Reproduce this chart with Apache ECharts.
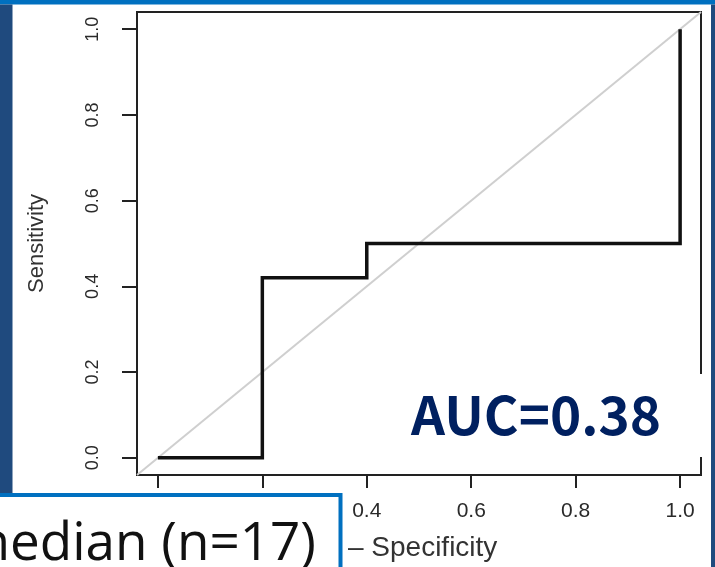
<!DOCTYPE html>
<html>
<head>
<meta charset="utf-8">
<script src="https://cdn.jsdelivr.net/npm/echarts@6/dist/echarts.min.js"></script>
<style>
html,body{margin:0;padding:0;background:#fff;}
#c{width:715px;height:567px;}
</style>
</head>
<body>
<div id="c"></div>
<script>
// ROC curve data (1 - specificity, sensitivity)
const fprValues = [0, 0.2, 0.2, 0.4, 0.4, 1.0, 1.0];
const tprValues = [0, 0, 0.42, 0.42, 0.5, 0.5, 1.0];
// chance diagonal spanning the plot region
const diagX = [-0.04, 1.04];
const diagY = [-0.04, 1.04];
// axis ticks
const tickValues = [0, 0.2, 0.4, 0.6, 0.8, 1.0];
const axisMin = -0.04;
const axisMax = 1.04;
const xName = '1 – Specificity';
const yName = 'Sensitivity';
const aucText = 'AUC=0.38';
const groupText = 'median (n=17)';

const chart = echarts.init(document.getElementById('c'), null, {renderer: 'canvas'});
const axisFont = 'Liberation Sans, Arial, sans-serif';
const korFont = '"Noto Sans CJK KR", "Noto Sans", sans-serif';

const option = {
  backgroundColor: '#ffffff',
  animation: false,
  grid: {
    left: 137, right: 14, top: 12, bottom: 92,
    show: true, borderColor: '#222', borderWidth: 2, backgroundColor: 'transparent'
  },
  xAxis: {
    type: 'value', min: axisMin, max: axisMax,
    name: xName, nameLocation: 'middle', nameGap: 59,
    nameTextStyle: {fontFamily: axisFont, fontSize: 28, color: '#333', padding: [0, 16, 0, 0]},
    axisLine: {show: false, onZero: false},
    splitLine: {show: false},
    axisTick: {show: true, inside: false, length: 13, customValues: tickValues, lineStyle: {color: '#222', width: 2}},
    axisLabel: {customValues: tickValues, margin: 26, fontFamily: axisFont, fontSize: 21, color: '#2a2a2a',
      formatter: v => v.toFixed(1)}
  },
  yAxis: {
    type: 'value', min: axisMin, max: axisMax,
    name: yName, nameLocation: 'middle', nameGap: 89, nameRotate: 90,
    nameTextStyle: {fontFamily: axisFont, fontSize: 22, color: '#333'},
    axisLine: {show: false, onZero: false},
    splitLine: {show: false},
    axisTick: {show: true, inside: false, length: 15, customValues: tickValues, lineStyle: {color: '#222', width: 2}},
    axisLabel: {customValues: tickValues, margin: 35, rotate: 90, fontFamily: axisFont, fontSize: 18, color: '#2a2a2a',
      formatter: v => v.toFixed(1)}
  },
  series: [
    {
      type: 'line', data: diagX.map((x, i) => [x, diagY[i]]),
      showSymbol: false, symbol: 'none', silent: true,
      lineStyle: {color: '#cfcfcf', width: 2}, z: 2
    },
    {
      type: 'line', data: fprValues.map((x, i) => [x, tprValues[i]]),
      showSymbol: false, symbol: 'none', silent: true,
      lineStyle: {color: '#111', width: 3.5, join: 'miter'}, z: 3
    }
  ],
  graphic: [
    {type: 'rect', z: 100, shape: {x: 0, y: 0, width: 715, height: 4.5}, style: {fill: '#0070c0'}},
    {type: 'rect', z: 100, shape: {x: 0, y: 4.5, width: 12.5, height: 489}, style: {fill: '#1f4a7e'}},
    {type: 'rect', z: 100, shape: {x: 711, y: 4.5, width: 4, height: 563}, style: {fill: '#1f4a7e'}},
    {type: 'rect', z: 100, shape: {x: 400, y: 374, width: 309, height: 83}, style: {fill: '#ffffff'}},
    {type: 'text', z: 101, x: 411, y: 415,
      style: {text: aucText, fill: '#002060', font: 'bold 53px ' + korFont, textAlign: 'left', textVerticalAlign: 'middle'}},
    {type: 'rect', z: 100, shape: {x: -10, y: 495, width: 350.5, height: 90}, style: {fill: '#ffffff', stroke: '#0070c0', lineWidth: 4}},
    {type: 'text', z: 101, x: 316, y: 545,
      style: {text: groupText, fill: '#111', font: '53px "Open Sans", sans-serif', textAlign: 'right', textVerticalAlign: 'middle'}}
  ]
};
chart.setOption(option);
</script>
</body>
</html>
